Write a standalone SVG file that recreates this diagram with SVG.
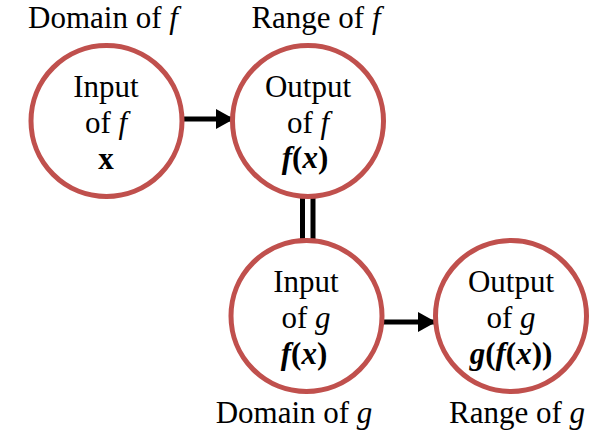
<svg xmlns="http://www.w3.org/2000/svg" width="605" height="434" viewBox="0 0 605 434">
<style>
.c{fill:#fff;stroke:#C0504D;stroke-width:5}
text{font-family:'Liberation Serif','Times New Roman',serif;font-size:31px;fill:#000;text-anchor:middle}
.i{font-style:italic}
.b{font-weight:bold}
.ln{stroke:#000;stroke-width:5;fill:none}
</style>
<defs>
<marker id="ah" markerWidth="4" markerHeight="4" refX="3.6" refY="2" orient="auto" markerUnits="strokeWidth">
<path d="M0,0 L3.6,2 L0,4 Z" fill="#000"/>
</marker>
</defs>
<g id="labels">
<text x="103" y="28">Domain of <tspan class="i">f</tspan></text>
<text x="316" y="28">Range of <tspan class="i">f</tspan></text>
<text x="294" y="423">Domain of <tspan class="i">g</tspan></text>
<text x="517" y="423">Range of <tspan class="i">g</tspan></text>
</g>
<g id="connectors">
<line class="ln" x1="179" y1="119" x2="234" y2="119" marker-end="url(#ah)"/>
<line class="ln" x1="382" y1="322" x2="436" y2="322" marker-end="url(#ah)"/>
<line class="ln" x1="302.5" y1="197" x2="302.5" y2="240"/>
<line class="ln" x1="313" y1="197" x2="313" y2="240"/>
</g>
<g id="n1">
<circle class="c" cx="106.5" cy="121" r="75.5"/>
<text x="106" y="97">Input</text>
<text x="106" y="133">of <tspan class="i">f</tspan></text>
<text x="106" y="169" class="b">x</text>
</g>
<g id="n2">
<circle class="c" cx="308" cy="121" r="75.5"/>
<text x="308" y="97">Output</text>
<text x="308" y="133">of <tspan class="i">f</tspan></text>
<text x="305" y="168" class="b"><tspan class="i">f</tspan>(<tspan class="i">x</tspan>)</text>
</g>
<g id="n3">
<circle class="c" cx="306.5" cy="316" r="75.5"/>
<text x="306" y="292">Input</text>
<text x="306" y="328">of <tspan class="i">g</tspan></text>
<text x="304" y="364" class="b"><tspan class="i">f</tspan>(<tspan class="i">x</tspan>)</text>
</g>
<g id="n4">
<circle class="c" cx="511" cy="316" r="75.5"/>
<text x="511" y="292">Output</text>
<text x="511" y="328">of <tspan class="i">g</tspan></text>
<text x="511" y="364" class="b"><tspan class="i">g</tspan>(<tspan class="i">f</tspan>(<tspan class="i">x</tspan>))</text>
</g>
</svg>
